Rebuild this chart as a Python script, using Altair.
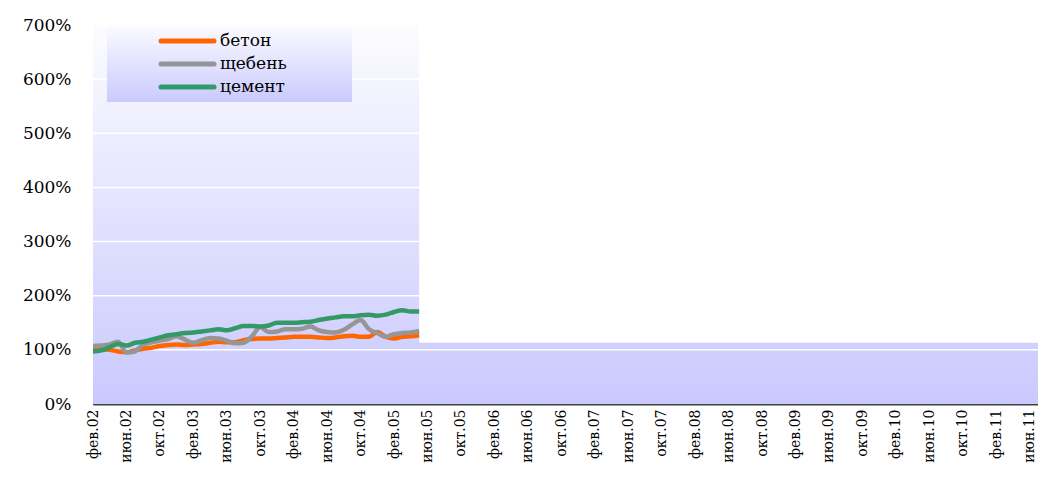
import json
import altair as alt
import pandas as pd

# ---- data -------------------------------------------------------------
months = [
    "фев.02", "мар.02", "апр.02", "май.02", "июн.02", "июл.02", "авг.02", "сен.02", "окт.02", "ноя.02", "дек.02",
    "янв.03", "фев.03", "мар.03", "апр.03", "май.03", "июн.03", "июл.03", "авг.03", "сен.03", "окт.03", "ноя.03", "дек.03",
    "янв.04", "фев.04", "мар.04", "апр.04", "май.04", "июн.04", "июл.04", "авг.04", "сен.04", "окт.04", "ноя.04", "дек.04",
    "янв.05", "фев.05", "мар.05", "апр.05", "май.05",
]
series_names = ["бетон", "щебень", "цемент"]
series_colors = ["#ff6600", "#969696", "#339966"]

beton = [101, 101, 100, 97, 96, 99, 102, 104, 107, 109, 110, 109, 110, 111, 113, 115, 114, 114, 118, 120,
         121, 121, 122, 123, 124, 124, 124, 123, 122, 123, 125, 126, 124, 124, 133, 124, 121, 124, 125, 127]
shcheben = [107, 108, 110, 115, 95, 97, 110, 114, 117, 120, 125, 119, 113, 118, 122, 121, 117, 112, 113, 125,
            142, 133, 134, 138, 138, 139, 143, 136, 133, 132, 137, 147, 155, 138, 131, 124, 129, 131, 132, 135]
cement = [97, 99, 105, 111, 108, 113, 115, 119, 123, 127, 129, 131, 132, 134, 136, 138, 136, 140, 144, 144,
          143, 145, 150, 150, 150, 151, 152, 155, 158, 160, 162, 162, 164, 165, 163, 165, 170, 173, 171, 171]

tick_labels = [
    "фев.02", "июн.02", "окт.02", "фев.03", "июн.03", "окт.03", "фев.04", "июн.04", "окт.04",
    "фев.05", "июн.05", "окт.05", "фев.06", "июн.06", "окт.06", "фев.07", "июн.07", "окт.07",
    "фев.08", "июн.08", "окт.08", "фев.09", "июн.09", "окт.09", "фев.10", "июн.10", "окт.10",
    "фев.11", "июн.11",
]
y_ticks = [0, 1, 2, 3, 4, 5, 6, 7]

# ---- tables -----------------------------------------------------------
rows = []
for name, vals in zip(series_names, [beton, shcheben, cement]):
    for i, (m, v) in enumerate(zip(months, vals)):
        rows.append({"i": i, "month": m, "series": name, "value": v / 100})
df = pd.DataFrame(rows)

X_MAX = 113
Y_MAX = 7
bg = pd.DataFrame([{"x": 0, "x2": X_MAX, "y": 0, "y2": Y_MAX}])
white_box = pd.DataFrame([{"x": len(months) - 1, "x2": X_MAX, "y": 1.13, "y2": Y_MAX}])
grid = pd.DataFrame({"y": y_ticks[1:]})

W, H = 945, 379

xscale = alt.Scale(domain=[0, X_MAX], nice=False, zero=False)
yscale = alt.Scale(domain=[0, Y_MAX], nice=False)

label_expr = json.dumps(tick_labels, ensure_ascii=False) + "[round(datum.value/4)]"

x_axis = alt.Axis(
    values=list(range(0, 113, 4)), labelExpr=label_expr, labelAngle=-90,
    labelFont="DejaVu Serif", labelFontSize=14, labelColor="black",
    ticks=False, domainColor="#404040", domainWidth=2, grid=False, title=None,
    labelPadding=5, labelOverlap=False, labelFlush=False,
)
y_axis = alt.Axis(
    values=y_ticks, format=".0%", labelFont="DejaVu Serif", labelFontSize=17,
    labelColor="black", ticks=False, labelPadding=22, domainColor="black",
    domainWidth=1, grid=False, title=None,
)

plot_grad = alt.Gradient(
    gradient="linear",
    stops=[alt.GradientStop(color="#fcfcff", offset=0), alt.GradientStop(color="#c9c9fe", offset=1)],
    x1=0, x2=0, y1=0, y2=1,
)
legend_grad = alt.Gradient(
    gradient="linear",
    stops=[alt.GradientStop(color="#fafaff", offset=0), alt.GradientStop(color="#cacafe", offset=1)],
    x1=0, x2=0, y1=0, y2=1,
)

background = alt.Chart(bg).mark_rect(fill=plot_grad).encode(
    x=alt.X("x:Q", scale=xscale, axis=x_axis),
    x2="x2:Q",
    y=alt.Y("y:Q", scale=yscale, axis=y_axis),
    y2="y2:Q",
)

white = alt.Chart(white_box).mark_rect(fill="white").encode(
    x=alt.X("x:Q", scale=xscale, axis=x_axis),
    x2="x2:Q",
    y=alt.Y("y:Q", scale=yscale, axis=y_axis),
    y2="y2:Q",
)

gridlines = alt.Chart(grid).mark_rule(color="white", strokeWidth=1.5).encode(
    y=alt.Y("y:Q", scale=yscale, axis=y_axis),
)

lines = alt.Chart(df).mark_line(strokeWidth=4.5, interpolate="monotone").encode(
    x=alt.X("i:Q", scale=xscale, axis=x_axis),
    y=alt.Y("value:Q", scale=yscale, axis=y_axis),
    color=alt.Color("series:N", scale=alt.Scale(domain=series_names, range=series_colors), legend=None),
    order="i:Q",
)

legend_box = alt.Chart(bg).mark_rect(fill=legend_grad).encode(
    x=alt.value(14), x2=alt.value(259), y=alt.value(2), y2=alt.value(77),
)

legend_layers = []
for k, (name, col) in enumerate(zip(series_names, series_colors)):
    yy = 16 + 23 * k
    legend_layers.append(
        alt.Chart(bg).mark_rule(color=col, strokeWidth=5, strokeCap="round").encode(
            x=alt.value(68), x2=alt.value(121), y=alt.value(yy)
        )
    )
    legend_layers.append(
        alt.Chart(bg).mark_text(
            align="left", baseline="middle", font="DejaVu Serif", fontSize=17, color="black"
        ).encode(x=alt.value(127), y=alt.value(yy), text=alt.value(name))
    )

chart = alt.layer(background, white, gridlines, lines, legend_box, *legend_layers).properties(
    width=W, height=H,
    autosize=alt.AutoSizeParams(type="none"),
    padding={"left": 85, "top": 17, "right": 0, "bottom": 60},
).configure_view(stroke=None).configure(background="white")

chart.save("out.html", embed_options={"renderer": "svg", "actions": False})
